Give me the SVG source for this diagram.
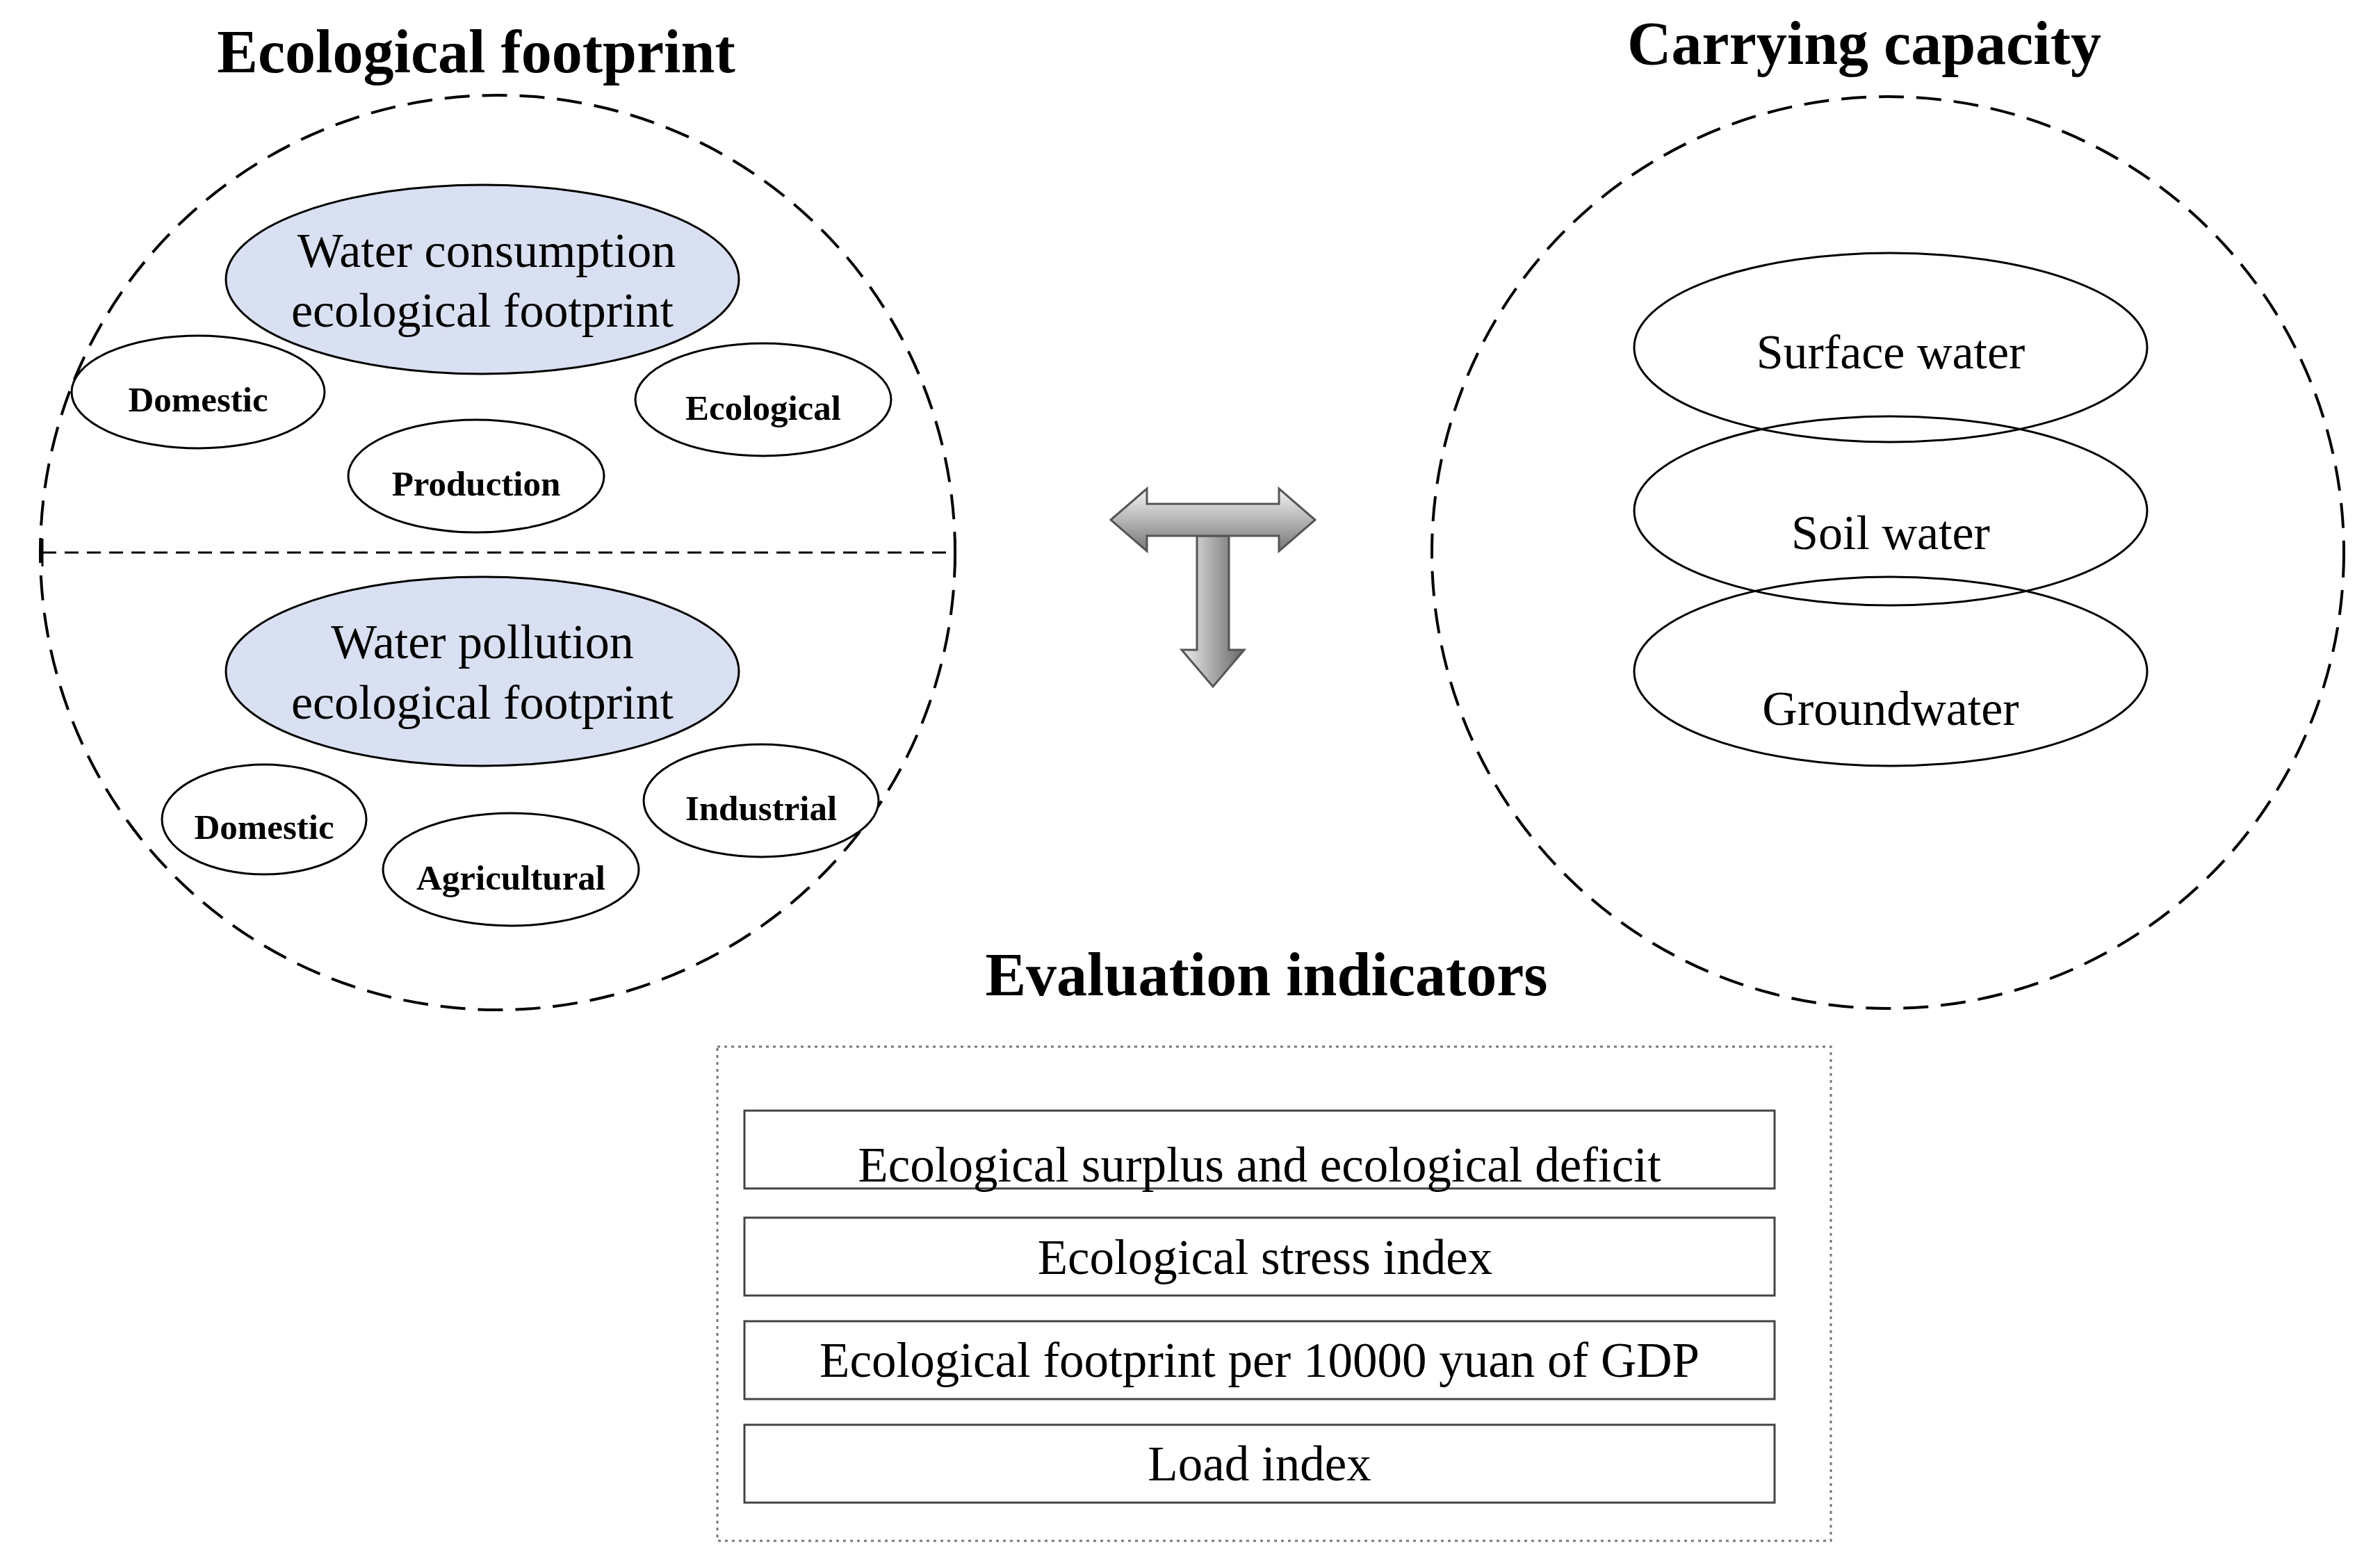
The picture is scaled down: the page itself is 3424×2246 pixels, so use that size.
<svg xmlns="http://www.w3.org/2000/svg" width="3424" height="2246" viewBox="0 0 3424 2246">
<style>
.t{font-family:"Liberation Serif",serif;fill:#000}
.h{font-size:88px;font-weight:bold;text-anchor:middle}
.big{font-size:70px;text-anchor:middle}
.sm{font-size:51px;font-weight:bold;text-anchor:middle}
.row{font-size:71px;text-anchor:middle}
.dash{fill:none;stroke:#000;stroke-width:4;stroke-dasharray:36 18}
.el{fill:#fff;stroke:#000;stroke-width:3}
.bl{fill:#d9e0f1;stroke:#000;stroke-width:3}
.ol{fill:none;stroke:#000;stroke-width:3}
.bx{fill:#fff;stroke:#444;stroke-width:3}
</style>
<defs>
<linearGradient id="g" x1="0" y1="0" x2="0" y2="1"><stop offset="0" stop-color="#f4f4f4"/><stop offset="1" stop-color="#777"/></linearGradient>
<linearGradient id="g2" x1="0" y1="0" x2="1" y2="0"><stop offset="0" stop-color="#eee"/><stop offset="1" stop-color="#666"/></linearGradient>
</defs>
<rect width="3424" height="2246" fill="#fff"/>
<g id="footprint">
<text class="t h" x="685" y="104">Ecological footprint</text>
<circle class="dash" cx="716" cy="795" r="658"/>
<line x1="61" y1="795" x2="1374" y2="795" stroke="#000" stroke-width="3" stroke-dasharray="20 12"/>
<line x1="61" y1="775" x2="61" y2="815" stroke="#000" stroke-width="3"/>
<line x1="1374" y1="775" x2="1374" y2="815" stroke="#000" stroke-width="3"/>
</g>
<g id="consumption"><ellipse class="bl" cx="694" cy="402" rx="369" ry="136"/>
<text class="t big" x="700" y="384">Water consumption</text><text class="t big" x="694" y="470">ecological footprint</text></g>
<g id="c-domestic"><ellipse class="el" cx="285" cy="564" rx="182" ry="81"/><text class="t sm" x="285" y="592">Domestic</text></g>
<g id="c-ecological"><ellipse class="el" cx="1098" cy="575" rx="184" ry="81"/><text class="t sm" x="1098" y="604">Ecological</text></g>
<g id="c-production"><ellipse class="el" cx="685" cy="685" rx="184" ry="81"/><text class="t sm" x="685" y="713">Production</text></g>
<g id="pollution"><ellipse class="bl" cx="694" cy="966" rx="369" ry="136"/>
<text class="t big" x="694" y="947">Water pollution</text><text class="t big" x="694" y="1034">ecological footprint</text></g>
<g id="p-domestic"><ellipse class="el" cx="380" cy="1179" rx="147" ry="79"/><text class="t sm" x="380" y="1207">Domestic</text></g>
<g id="p-agricultural"><ellipse class="el" cx="735" cy="1251" rx="184" ry="81"/><text class="t sm" x="735" y="1280">Agricultural</text></g>
<g id="p-industrial"><ellipse class="el" cx="1095" cy="1152" rx="169" ry="81"/><text class="t sm" x="1095" y="1180">Industrial</text></g>
<g id="capacity">
<text class="t h" x="2682" y="92">Carrying capacity</text>
<circle class="dash" cx="2716" cy="795" r="656"/>
<ellipse class="ol" cx="2720" cy="500" rx="369" ry="136"/>
<ellipse class="ol" cx="2720" cy="735" rx="369" ry="136"/>
<ellipse class="ol" cx="2720" cy="966" rx="369" ry="136"/>
<text class="t big" x="2720" y="530">Surface water</text>
<text class="t big" x="2720" y="790">Soil water</text>
<text class="t big" x="2720" y="1043">Groundwater</text>
</g>
<g id="connectors">
<path d="M1722,771 L1722,935 L1700,935 L1745,988 L1790,935 L1768,935 L1768,771 Z" fill="url(#g2)" stroke="#555" stroke-width="3"/>
<path d="M1598,748 L1650,703 L1650,725 L1840,725 L1840,703 L1892,748 L1840,793 L1840,771 L1650,771 L1650,793 Z" fill="url(#g)" stroke="#555" stroke-width="3"/>
</g>
<g id="indicators">
<text class="t h" x="1822" y="1432">Evaluation indicators</text>
<rect x="1032" y="1506" width="1602" height="711" fill="none" stroke="#777" stroke-width="3" stroke-dasharray="4 6"/>
<rect class="bx" x="1071" y="1598" width="1482" height="112"/><text class="t row" x="1812" y="1700">Ecological surplus and ecological deficit</text>
<rect class="bx" x="1071" y="1752" width="1482" height="112"/><text class="t row" x="1820" y="1833">Ecological stress index</text>
<rect class="bx" x="1071" y="1901" width="1482" height="112"/><text class="t row" x="1812" y="1981">Ecological footprint per 10000 yuan of GDP</text>
<rect class="bx" x="1071" y="2050" width="1482" height="112"/><text class="t row" x="1812" y="2130">Load index</text>
</g>
</svg>
